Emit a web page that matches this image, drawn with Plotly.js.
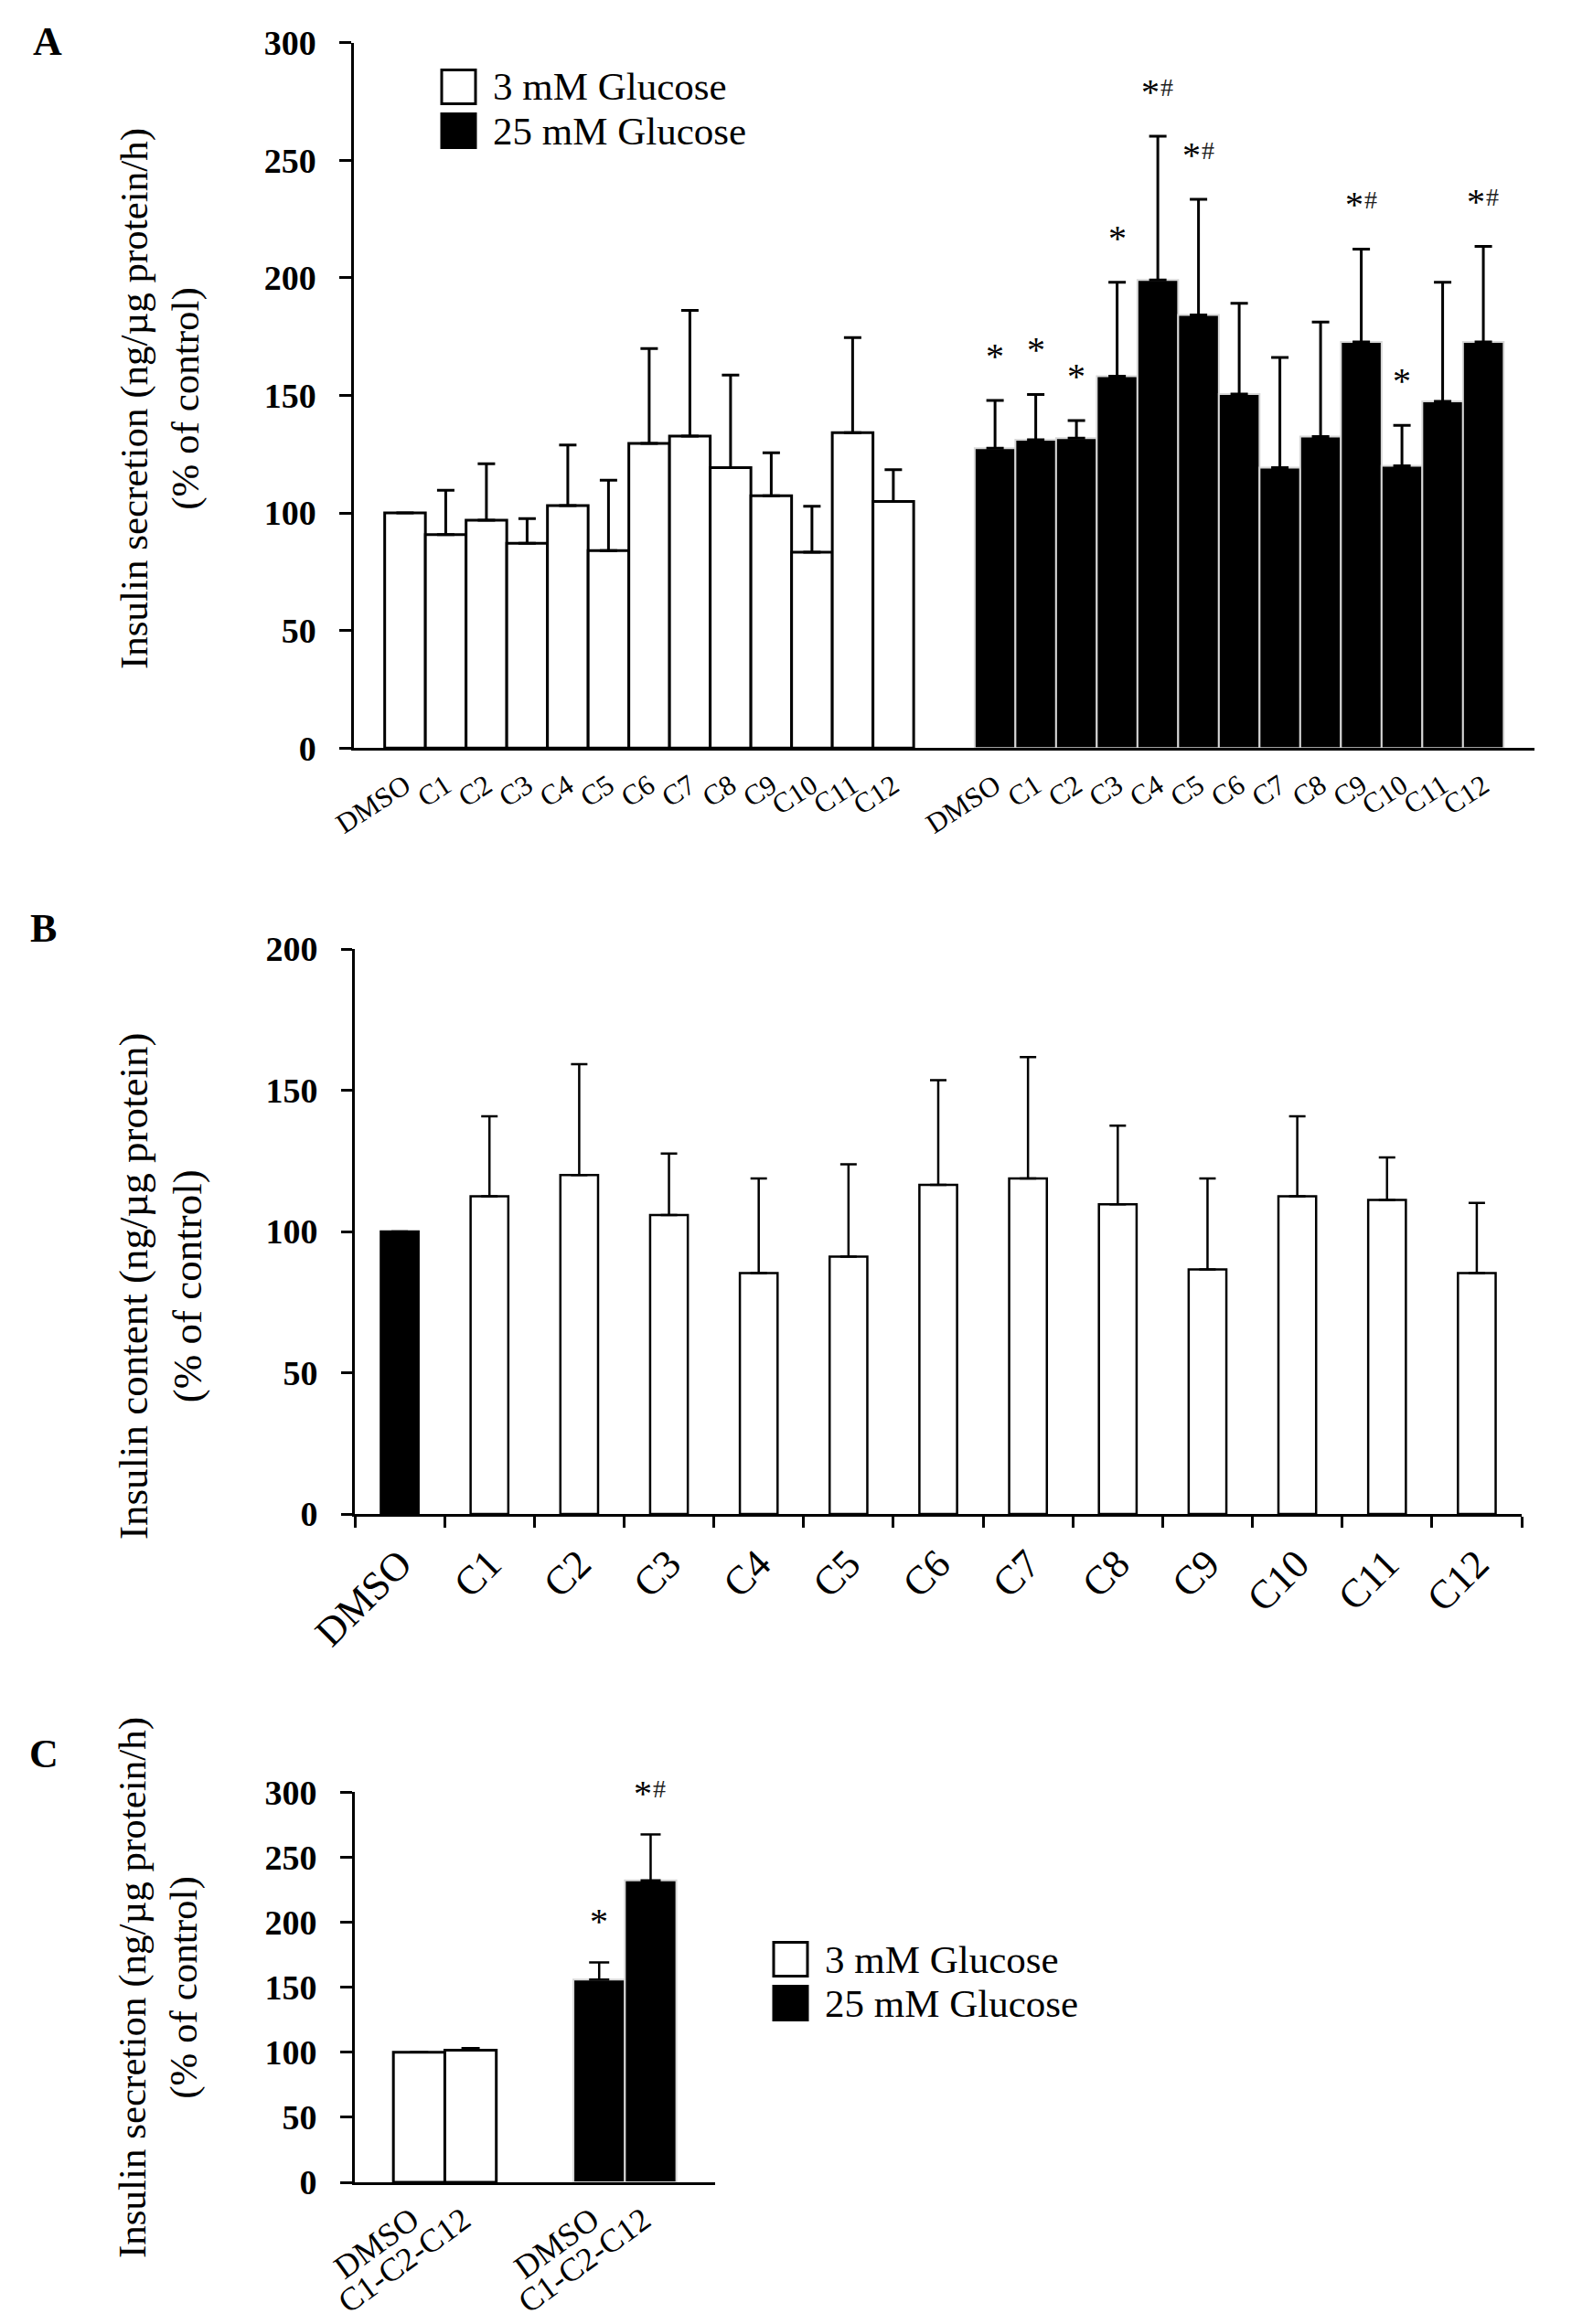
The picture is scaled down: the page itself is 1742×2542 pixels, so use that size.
<!DOCTYPE html>
<html>
<head>
<meta charset="utf-8">
<script src="https://cdn.plot.ly/plotly-3.0.1.min.js"></script>
<style>html,body{margin:0;padding:0;background:#fff;}#chart{width:1742px;height:2542px;}</style>
</head>
<body>
<div id="chart"></div>
<script>
// ---------------- DATA ----------------
const compounds = ['DMSO','C1','C2','C3','C4','C5','C6','C7','C8','C9','C10','C11','C12'];

// Panel A: insulin secretion (% of control)
const secretionLow      = [100, 90.8, 96.9, 87.1, 103.1, 84.0, 129.6, 132.7, 119.3, 107.3, 83.3, 134.1, 104.9];
const secretionLowErr   = [0, 18.8, 24.0, 10.5, 25.8, 29.9, 40.3, 53.4, 39.3, 18.3, 19.5, 40.5, 13.5];
const secretionHigh     = [127.5, 131.1, 131.8, 158.1, 199.1, 184.2, 150.6, 119.3, 132.5, 172.7, 120.0, 147.5, 172.7];
const secretionHighErr  = [20.3, 19.3, 7.5, 40.0, 61.1, 49.2, 38.6, 46.8, 48.7, 39.5, 17.2, 50.6, 40.7];
const sigHigh           = ['*','*','*','*','*#','*#','','','','*#','*','','*#'];

// Panel B: insulin content (% of control)
const contentVals = [100, 112.5, 120.0, 105.8, 85.3, 91.1, 116.5, 118.8, 109.6, 86.6, 112.5, 111.2, 85.3];
const contentErr  = [0, 28.3, 39.2, 21.8, 33.5, 32.7, 37.1, 42.9, 27.9, 32.2, 28.3, 15.0, 24.8];

// Panel C: combination
const comboLabels  = ['DMSO','C1-C2-C12'];
const comboLow     = [100, 101.5];
const comboLowErr  = [0, 1.7];
const comboHigh    = [155.9, 232.1];
const comboHighErr = [13.2, 35.4];
const sigCombo     = ['*','*#'];

const legendLabels = ['3 mM Glucose','25 mM Glucose'];

// ---------------- LAYOUT HELPERS ----------------
const W = 1742, H = 2542;
const px = x => x / W;
const py = y => 1 - y / H;
const FONT = 'Liberation Serif, Times New Roman, serif';
const GROUP_GAP = 1.5;   // gap between glucose groups, in bar widths
const SIDE_PAD = 0.75;   // padding at both axis ends, in bar widths

const posLowA  = compounds.map((_, i) => i);
const posHighA = compounds.map((_, i) => i + compounds.length + GROUP_GAP);
const posLowC  = comboLabels.map((_, i) => i);
const posHighC = comboLabels.map((_, i) => i + comboLabels.length + GROUP_GAP);
const rangeA = [-0.5 - SIDE_PAD, posHighA[posHighA.length - 1] + 0.5 + SIDE_PAD];
const rangeC = [-0.5 - SIDE_PAD, posHighC[posHighC.length - 1] + 0.5 + SIDE_PAD];

function errBar(arr, thick, w) {
  return {type: 'data', array: arr, arrayminus: arr.map(() => 0), symmetric: false,
          color: '#000', thickness: thick, width: w, visible: true};
}

const traces = [
  // Panel A
  {type: 'bar', x: posLowA, y: secretionLow, width: 1, xaxis: 'x', yaxis: 'y',
   marker: {color: '#fff', line: {color: '#000', width: 3}},
   error_y: errBar(secretionLowErr, 3, 9.5), hoverinfo: 'skip'},
  {type: 'bar', x: posHighA, y: secretionHigh, width: 1, xaxis: 'x', yaxis: 'y',
   marker: {color: '#000', line: {color: '#d8d8d8', width: 2}},
   error_y: errBar(secretionHighErr, 3, 9.5), hoverinfo: 'skip'},
  // Panel B
  {type: 'bar', x: compounds.slice(0, 1), y: contentVals.slice(0, 1), width: 0.42, xaxis: 'x2', yaxis: 'y2',
   marker: {color: '#000', line: {color: '#000', width: 2.5}},
   error_y: errBar(contentErr.slice(0, 1), 2.5, 9), hoverinfo: 'skip'},
  {type: 'bar', x: compounds.slice(1), y: contentVals.slice(1), width: 0.42, xaxis: 'x2', yaxis: 'y2',
   marker: {color: '#fff', line: {color: '#000', width: 2.5}},
   error_y: errBar(contentErr.slice(1), 2.5, 9), hoverinfo: 'skip'},
  // Panel C
  {type: 'bar', x: posLowC, y: comboLow, width: 1, xaxis: 'x3', yaxis: 'y3',
   marker: {color: '#fff', line: {color: '#000', width: 3}},
   error_y: errBar(comboLowErr, 2.5, 10), hoverinfo: 'skip'},
  {type: 'bar', x: posHighC, y: comboHigh, width: 1, xaxis: 'x3', yaxis: 'y3',
   marker: {color: '#000', line: {color: '#d8d8d8', width: 2}},
   error_y: errBar(comboHighErr, 2.5, 11), hoverinfo: 'skip'}
];

const axisLine = {showline: true, linewidth: 3, linecolor: '#000', showgrid: false, zeroline: false, fixedrange: true};
const yTickFont = {family: FONT, size: 38, color: '#000', weight: 'bold'};

const annotations = [];
function addSig(s, xref, yref, x, y, yshift) {
  if (!s) return;
  const hasHash = s.indexOf('#') >= 0;
  annotations.push({xref: xref, yref: yref, x: x, y: y, text: '*', showarrow: false,
    yanchor: 'bottom', yshift: yshift, xshift: hasHash ? -8 : 0,
    font: {family: FONT, size: 40, color: '#000'}});
  if (hasHash) {
    annotations.push({xref: xref, yref: yref, x: x, y: y, text: '#', showarrow: false,
      yanchor: 'bottom', yshift: yshift + 12, xshift: 10,
      font: {family: FONT, size: 28, color: '#222'}});
  }
}
sigHigh.forEach((s, i) => addSig(s, 'x', 'y', posHighA[i], secretionHigh[i] + secretionHighErr[i], 24));
sigCombo.forEach((s, i) => addSig(s, 'x3', 'y3', posHighC[i], comboHigh[i] + comboHighErr[i], 20));

// Panel letters
[['A', 52, 46], ['B', 47, 1016], ['C', 48, 1918]].forEach(([t, x, y]) => {
  annotations.push({xref: 'paper', yref: 'paper', x: px(x), y: py(y), text: t, showarrow: false,
    xanchor: 'center', yanchor: 'middle', font: {family: FONT, size: 44, color: '#000', weight: 'bold'}});
});

// Y titles
[['Insulin secretion (ng/µg protein/h)<br>(% of control)', 175, 436, 43],
 ['Insulin content (ng/µg protein)<br>(% of control)', 175, 1407, 45],
 ['Insulin secretion (ng/µg protein/h)<br>(% of control)', 173, 2174, 43]].forEach(([t, x, y, s]) => {
  annotations.push({xref: 'paper', yref: 'paper', x: px(x), y: py(y), text: t, showarrow: false,
    textangle: -90, xanchor: 'center', yanchor: 'middle',
    font: {family: FONT, size: s, color: '#000'}});
});

// Manual legends
const shapes = [];
function legend(x0, ys) {
  ys.forEach((yy, i) => {
    shapes.push({type: 'rect', xref: 'paper', yref: 'paper',
      x0: px(x0), x1: px(x0 + 37), y0: py(yy + 18.5), y1: py(yy - 18.5),
      fillcolor: i === 0 ? '#fff' : '#000', line: {color: '#000', width: 3}});
    annotations.push({xref: 'paper', yref: 'paper', x: px(x0 + 54), y: py(yy), text: legendLabels[i],
      showarrow: false, xanchor: 'left', yanchor: 'middle',
      font: {family: FONT, size: 43, color: '#000'}});
  });
}
legend(483, [95, 143]);
legend(846, [2143, 2191]);

const layout = {
  width: W, height: H, margin: {l: 0, r: 0, t: 0, b: 0},
  paper_bgcolor: '#fff', plot_bgcolor: 'rgba(0,0,0,0)',
  showlegend: false, barmode: 'overlay', bargap: 0,
  font: {family: FONT, color: '#000'},
  // Panel A
  xaxis: Object.assign({}, axisLine, {
    domain: [px(387.3), px(1677.7)], anchor: 'y', range: rangeA,
    tickmode: 'array', tickvals: posLowA.concat(posHighA), ticktext: compounds.concat(compounds),
    tickangle: -33, ticks: '', tickfont: {family: FONT, size: 31, color: '#000'}, ticklabelstandoff: 8}),
  yaxis: Object.assign({}, axisLine, {
    domain: [py(818.2), py(46.7)], anchor: 'x', range: [0, 300], dtick: 50,
    ticks: 'outside', ticklen: 13, tickwidth: 3, tickcolor: '#000', tickfont: yTickFont, ticklabelstandoff: 18}),
  // Panel B
  xaxis2: Object.assign({}, axisLine, {
    domain: [px(388), px(1664)], anchor: 'y2', type: 'category',
    categoryorder: 'array', categoryarray: compounds, range: [-0.5, compounds.length - 0.5],
    ticks: 'outside', tickson: 'boundaries', ticklen: 12, tickwidth: 3, tickcolor: '#000',
    tickangle: -45, tickfont: {family: FONT, size: 44, color: '#000'}, ticklabelstandoff: 8}),
  yaxis2: Object.assign({}, axisLine, {
    domain: [py(1656), py(1038)], anchor: 'x2', range: [0, 200], dtick: 50,
    ticks: 'outside', ticklen: 12, tickwidth: 3, tickcolor: '#000', tickfont: yTickFont, ticklabelstandoff: 18}),
  // Panel C
  xaxis3: Object.assign({}, axisLine, {
    domain: [px(388), px(781.8)], anchor: 'y3', range: rangeC,
    tickmode: 'array', tickvals: posLowC.concat(posHighC), ticktext: comboLabels.concat(comboLabels),
    tickangle: -36, ticks: '', tickfont: {family: FONT, size: 36, color: '#000'},
    ticklabelstandoff: 3, ticklabelshift: -8}),
  yaxis3: Object.assign({}, axisLine, {
    domain: [py(2387), py(1960.2)], anchor: 'x3', range: [0, 300], dtick: 50,
    ticks: 'outside', ticklen: 13, tickwidth: 3, tickcolor: '#000', tickfont: yTickFont, ticklabelstandoff: 18}),
  annotations: annotations,
  shapes: shapes
};

Plotly.newPlot('chart', traces, layout, {staticPlot: true, displayModeBar: false});
</script>
</body>
</html>
